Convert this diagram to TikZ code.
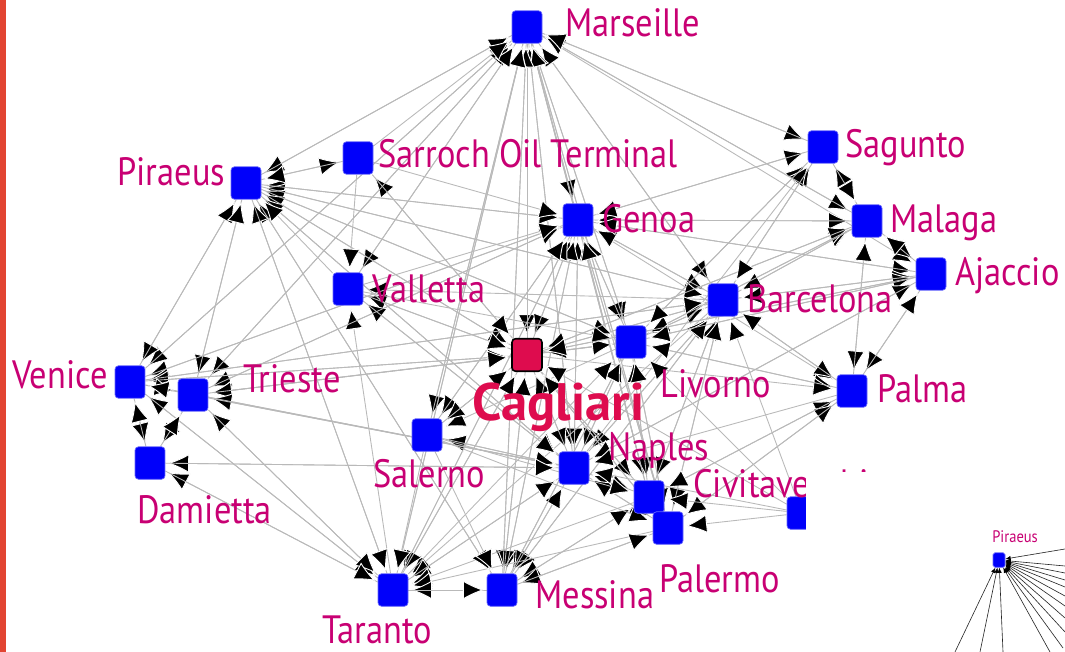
\documentclass[tikz,border=0pt]{standalone}
\usepackage{fontspec}
\setmainfont{PT Sans}
\newfontfamily\portfont{PT Sans}[FakeStretch=0.87]
\usetikzlibrary{arrows.meta,backgrounds}

\definecolor{portblue}{RGB}{0,0,250}
\definecolor{portpink}{RGB}{200,0,115}
\definecolor{cagred}{RGB}{222,12,78}
\definecolor{barred}{RGB}{226,68,50}

\tikzset{
  port/.style={rectangle, rounded corners=2pt, fill=portblue, draw=portblue!60!white,
    line width=0.4pt, minimum width=0.6cm, minimum height=0.65cm, inner sep=0pt},
  hub/.style={port, fill=cagred, draw=black, line width=0.9pt},
  portname/.style={anchor=base west, inner sep=0pt, text=portpink,
    font=\portfont\fontsize{22.5}{25}\selectfont},
  hubname/.style={portname, text=cagred, font=\fontsize{30}{33}\selectfont\bfseries},
  link/.style={draw=gray!55, line width=0.5pt, shorten >=1.5pt,
    -{Latex[length=12pt,width=11pt,color=white,fill=black]}},
  minilink/.style={draw=black!85, line width=0.35pt,
    -{Latex[length=3pt,width=2.5pt,color=black]}},
}

\begin{document}
\begin{tikzpicture}[x=0.02cm,y=-0.02cm]
\useasboundingbox (0,0) rectangle (1065,652);

%% les ports
   \node [port] (mar) at (527,27) {};
   \node [port] (sar) at (358,158) {};
   \node [port] (pir) at (246,183) {};
   \node [port] (sag) at (823,147) {};
   \node [port] (gen) at (578,220) {};
   \node [port] (mal) at (867,221) {};
   \node [port] (aja) at (931,274) {};
   \node [port] (val) at (348,289) {};
   \node [port] (bar) at (723,300) {};
   \node [port] (liv) at (631,342) {};
   \node [hub]  (cag) at (527,355) {};
   \node [port] (ven) at (130,382) {};
   \node [port] (tri) at (193,395) {};
   \node [port] (pal) at (852,391) {};
   \node [port] (sal) at (427,435) {};
   \node [port] (nap) at (574,468) {};
   \node [port] (dam) at (150,463) {};
   \node [port] (civ) at (649,497) {};
   \node [port] (ple) at (668,528) {};
   \node [port] (cut) at (802,513) {};
   \node [port] (tar) at (393,590) {};
   \node [port] (mes) at (502,590) {};

%% les noms
   \node [portname] (mar-t) at (565,37) {Marseille};
   \node [portname] (sar-t) at (378,168) {Sarroch Oil Terminal};
   \node [portname] (pir-t) at (117,185) {Piraeus};
   \node [portname] (sag-t) at (845,157) {Sagunto};
   \node [portname] (gen-t) at (602,232) {Genoa};
   \node [portname] (mal-t) at (890,232) {Malaga};
   \node [portname] (aja-t) at (955,285) {Ajaccio};
   \node [portname] (val-t) at (372,302) {Valletta};
   \node [portname] (bar-t) at (747,312) {Barcelona};
   \node [portname] (liv-t) at (660,397) {Livorno};
   \node [hubname]  (cag-t) at (472,420) {Cagliari};
   \node [portname] (ven-t) at (12,388) {Venice};
   \node [portname] (tri-t) at (243,392) {Trieste};
   \node [portname] (pal-t) at (877,402) {Palma};
   \node [portname] (sal-t) at (373,487) {Salerno};
   \node [portname] (nap-t) at (608,460) {Naples};
   \node [portname] (civ-t) at (693,497) {Civitavecchia};
   \node [portname] (dam-t) at (137,523) {Damietta};
   \node [portname] (ple-t) at (659,592) {Palermo};
   \node [portname] (mes-t) at (535,608) {Messina};
   \node [portname] (tar-t) at (322,643) {Taranto};

%% les liens
\begin{scope}[on background layer]
   \path [link] (mar) edge (pir) edge (sag) edge (gen) edge (mal) edge (aja) edge (val)
      edge (bar) edge (liv) edge (cag) edge (nap) edge (civ) edge (ple) edge (tri)
      edge (ven) edge (sal) edge (tar) edge (mes);
   \path [link] (gen) edge (mar) edge (pir) edge (sag) edge (mal) edge (aja) edge (bar)
      edge (liv) edge (cag) edge (ven) edge (tri) edge (nap) edge (civ) edge (ple)
      edge (sal) edge (tar) edge (mes) edge (pal);
   \path [link] (bar) edge (mar) edge (gen) edge (sag) edge (mal) edge (aja) edge (pal)
      edge (liv) edge (cag) edge (nap) edge (civ) edge (ple) edge (pir) edge (val)
      edge (tar) edge (mes) edge (ven);
   \path [link] (liv) edge (mar) edge (gen) edge (bar) edge (cag) edge (nap) edge (civ)
      edge (ple) edge (aja) edge (mal) edge (pal) edge (sag) edge (pir) edge (tri)
      edge (sal) edge (mes);
   \path [link] (cag) edge (mar) edge (gen) edge (bar) edge (liv) edge (nap) edge (civ)
      edge (ple) edge (pir) edge (val) edge (ven) edge (tri) edge (sal) edge (tar)
      edge (mes) edge (mal) edge (aja) edge (pal) edge (sar);
   \path [link] (nap) edge (mar) edge (gen) edge (bar) edge (liv) edge (cag) edge (civ)
      edge (ple) edge (pir) edge (ven) edge (tri) edge (dam) edge (sal) edge (tar)
      edge (mes) edge (val) edge (aja) edge (sag);
   \path [link] (civ) edge (mar) edge (gen) edge (bar) edge (liv) edge (cag) edge (nap)
      edge (ple) edge (pal) edge (mes) edge (tar);
   \path [link] (ple) edge (mar) edge (gen) edge (bar) edge (liv) edge (cag) edge (nap)
      edge (civ) edge (mes) edge (tar) edge (pal);
   \path [link] (mes) edge (mar) edge (gen) edge (cag) edge (nap) edge (civ) edge (ple)
      edge (tar) edge (pir) edge (bar) edge (liv);
   \path [link] (tar) edge (mar) edge (gen) edge (cag) edge (nap) edge (mes) edge (pir)
      edge (ven) edge (dam) edge (tri) edge (val) edge (liv);
   \path [link] (pir) edge (mar) edge (gen) edge (bar) edge (cag) edge (nap) edge (liv)
      edge (ven) edge (tri) edge (tar) edge (mes) edge (sar);
   \path [link] (ven) edge (mar) edge (gen) edge (cag) edge (nap) edge (tri) edge (dam)
      edge (pir) edge (tar) edge (bar);
   \path [link] (tri) edge (mar) edge (ven) edge (dam) edge (gen) edge (cag) edge (nap)
      edge (pir) edge (tar);
   \path [link] (sal) edge (mar) edge (gen) edge (cag) edge (nap) edge (tar) edge (mes)
      edge (ple) edge (civ);
   \path [link] (val) edge (mar) edge (gen) edge (cag) edge (nap) edge (pir) edge (liv);
   \path [link] (mal) edge (sag) edge (aja) edge (pal) edge (bar) edge (gen) edge (mar)
      edge (liv) edge (cag);
   \path [link] (aja) edge (mal) edge (pal) edge (bar) edge (gen) edge (liv) edge (cag)
      edge (nap);
   \path [link] (sag) edge (mal) edge (bar) edge (gen) edge (mar) edge (liv);
   \path [link] (pal) edge (mal) edge (aja) edge (bar) edge (liv) edge (nap) edge (civ)
      edge (ple);
   \path [link] (sar) edge (mar) edge (gen) edge (cag) edge (pir) edge (val);
   \path [link] (dam) edge (ven) edge (tar) edge (tri) edge (nap);
   \path [link] (cut) edge (nap) edge (civ) edge (ple) edge (bar) edge (liv) edge (cag);
\end{scope}

%% bord rouge
   \fill [barred] (0,0) rectangle (6,652);

%% encart
   \fill [white] (806,472) rectangle (1065,652);
   \node [port, minimum width=0.24cm, minimum height=0.29cm, rounded corners=1pt]
      (pirmini) at (999,560) {};
   \node [portname, font=\portfont\fontsize{9.5}{11}\selectfont] (pirmini-t) at (992,542) {Piraeus};
   \foreach \n/\x/\y in {a/1065/549, b/1065/566, c/1065/573, d/1065/580, e/1065/587,
      f/1065/596, g/1065/606, h/1065/618, i/1065/632, j/955/652, k/980/652, l/1003/652,
      m/1050/652, n/1063/648}
      \coordinate (mini-\n) at (\x,\y);
   \foreach \n in {a,b,c,d,e,f,g,h,i,j,k,l,m,n}
      \draw [minilink] (mini-\n) -- (pirmini);

\end{tikzpicture}
\end{document}
